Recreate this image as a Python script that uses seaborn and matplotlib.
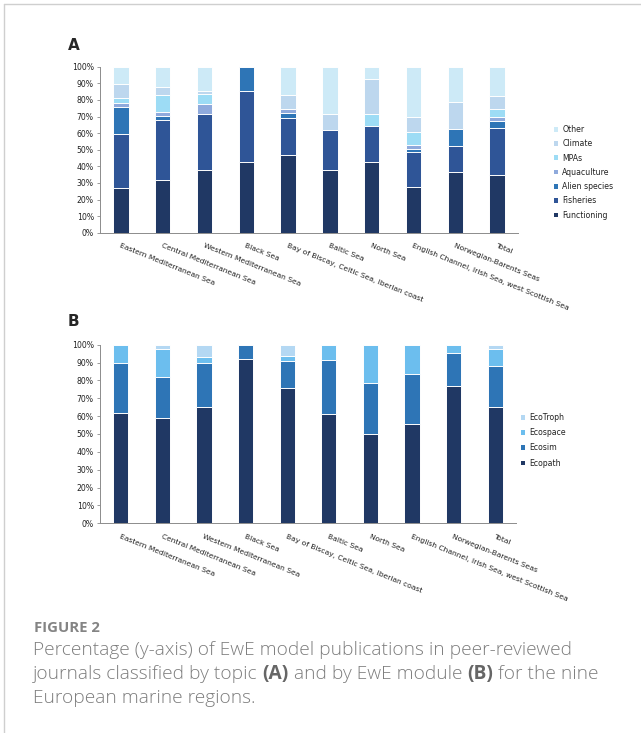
import numpy as np
import pandas as pd
import matplotlib
matplotlib.use("Agg")
import matplotlib.pyplot as plt
import seaborn as sns
from matplotlib.lines import Line2D
from matplotlib.patches import Patch

# regions (x categories)
regions = ["Eastern Mediterranean Sea", "Central Mediterranean Sea",
           "Western Mediterranean Sea", "Black Sea",
           "Bay of Biscay, Celtic Sea, Iberian coast", "Baltic Sea", "North Sea",
           "English Channel, Irish Sea, west Scottish Sea",
           "Norwegian-Barents Seas", "Total"]

# panel A - share of publications by topic (%)
functioning = [27, 31.5, 37.5, 42.5, 47, 38, 42.5, 27.5, 36.5, 35]
fisheries = [32.5, 36.5, 34, 43, 22, 24, 22, 21, 16, 28]
alien_species = [16, 2.5, 0, 14.5, 3, 0, 0, 2, 10, 4]
aquaculture = [2.5, 2.5, 6, 0, 2.5, 0, 0, 2.5, 0, 3]
mpas = [3, 10, 6, 0, 0, 0, 7, 7.5, 0, 4.5]
climate = [8.5, 5, 2, 0, 8.5, 9.5, 21, 9.5, 16, 8]
other = [10.5, 12, 14.5, 0, 17, 28.5, 7.5, 30, 21.5, 17.5]

# panel B - share of publications by EwE module (%)
ecopath = [62, 59, 65, 92, 76, 61, 50, 55.5, 77, 65]
ecosim = [27.5, 23, 24.5, 8, 15, 30.5, 28.5, 28, 18.5, 23]
ecospace = [10.5, 15.5, 3.5, 0, 2.5, 8.5, 21.5, 16.5, 4.5, 9.5]
ecotroph = [0, 2.5, 7, 0, 6.5, 0, 0, 0, 0, 2.5]

topic_names = ["Functioning", "Fisheries", "Alien species", "Aquaculture",
               "MPAs", "Climate", "Other"]
topic_colors = ["#203864", "#2f5597", "#2e75b6", "#8faadc",
                "#9ddcf5", "#bdd7ee", "#cdeaf7"]
module_names = ["Ecopath", "Ecosim", "Ecospace", "EcoTroph"]
module_colors = ["#203864", "#2e75b6", "#6cbeee", "#b4d8f3"]

W, H = 641, 733
sns.set_style("white")
plt.rcParams["font.family"] = ["DejaVu Sans"]


def px(x, y):
    return x / W, 1 - y / H


def stacked(ax, series, colors):
    df = pd.DataFrame(series).T
    cum = df.cumsum(axis=1)
    # draw tallest cumulative first, so lower segments sit on top
    for i in range(cum.shape[1] - 1, -1, -1):
        sns.barplot(x=regions, y=cum.iloc[:, i].values, color=colors[i],
                    saturation=1, width=0.37, edgecolor="white",
                    linewidth=0.7, errorbar=None, ax=ax)


def style_axes(ax):
    ax.set_xlim(-0.5, len(regions) - 0.5)
    ax.set_ylim(0, 100)
    ax.set_yticks(np.arange(0, 101, 10))
    ax.set_yticklabels([f"{v}%" for v in range(0, 101, 10)], fontsize=5.6,
                       color="#222222")
    ax.set_xticks(range(len(regions)))
    ax.set_xticklabels(regions, fontsize=5.4, rotation=-22, ha="left",
                       va="top", rotation_mode="anchor", color="#222222")
    ax.set_xticks(np.arange(-0.5, len(regions)), minor=True)
    ax.tick_params(axis="x", which="major", length=0, pad=7)
    ax.tick_params(axis="x", which="minor", length=3, color="#8c8c8c",
                   width=0.6, direction="out")
    ax.tick_params(axis="y", length=2.5, color="#8c8c8c", width=0.6,
                   pad=2, direction="out", left=True)
    for s in ["top", "right"]:
        ax.spines[s].set_visible(False)
    for s in ["left", "bottom"]:
        ax.spines[s].set_color("#8c8c8c")
        ax.spines[s].set_linewidth(0.7)
    ax.set_xlabel("")
    ax.set_ylabel("")


fig = plt.figure(figsize=(W / 100, H / 100), dpi=100)
fig.patch.set_facecolor("white")

axA = fig.add_axes([100 / W, 1 - 232.7 / H, 418 / W, 166 / H])
stacked(axA, [functioning, fisheries, alien_species, aquaculture, mpas,
              climate, other], topic_colors)
style_axes(axA)

axB = fig.add_axes([100 / W, 1 - 523.3 / H, 416 / W, 178.6 / H])
stacked(axB, [ecopath, ecosim, ecospace, ecotroph], module_colors)
style_axes(axB)

# legends
hA = [Patch(facecolor=c, edgecolor="none") for c in topic_colors][::-1]
fig.legend(hA, topic_names[::-1], loc="upper left",
           bbox_to_anchor=px(554, 125), frameon=False, fontsize=5.6,
           handlelength=0.55, handleheight=0.55, handletextpad=0.5,
           labelspacing=0.68, borderpad=0, borderaxespad=0,
           labelcolor="#222222")
hB = [Patch(facecolor=c, edgecolor="none") for c in module_colors][::-1]
fig.legend(hB, module_names[::-1], loc="upper left",
           bbox_to_anchor=px(521, 413), frameon=False, fontsize=5.6,
           handlelength=0.55, handleheight=0.55, handletextpad=0.5,
           labelspacing=0.8, borderpad=0, borderaxespad=0,
           labelcolor="#222222")

# panel letters
fig.text(*px(68, 46), "A", fontsize=11, fontweight="bold", va="center")
fig.text(*px(68, 322), "B", fontsize=11, fontweight="bold", va="center")

# caption
cap_color = "#7d7d7d"
bold_color = "#666666"
cap_size = 13.8
fig.text(*px(34, 628), "FIGURE 2", fontsize=10.7, color="#848484",
         family="Open Sans", fontweight="bold", va="center")
fig.text(*px(33, 650), "Percentage (y-axis) of EwE model publications in peer-reviewed",
         fontsize=cap_size, color=cap_color, family="Open Sans",
         fontweight="light", va="center")
fig.text(*px(33, 698), "European marine regions.",
         fontsize=cap_size, color=cap_color, family="Open Sans",
         fontweight="light", va="center")

renderer = fig.canvas.get_renderer()
x0 = 33
pieces = [("journals classified by topic ", "light", cap_color),
          ("(A)", "bold", bold_color),
          (" and by EwE module ", "light", cap_color),
          ("(B)", "bold", bold_color),
          (" for the nine", "light", cap_color)]
for txt, wt, col in pieces:
    t = fig.text(*px(x0, 674), txt, fontsize=cap_size, color=col,
                 family="Open Sans", fontweight=wt, va="center")
    bb = t.get_window_extent(renderer)
    x0 += bb.width

# frame lines at top and left
fig.add_artist(Line2D([4 / W, 4 / W], [0, 1 - 4 / H], transform=fig.transFigure,
                      color="#cfcfcf", lw=1))
fig.add_artist(Line2D([4 / W, 1], [1 - 4 / H, 1 - 4 / H], transform=fig.transFigure,
                      color="#cfcfcf", lw=1))

fig.savefig("out.png", dpi=100)
